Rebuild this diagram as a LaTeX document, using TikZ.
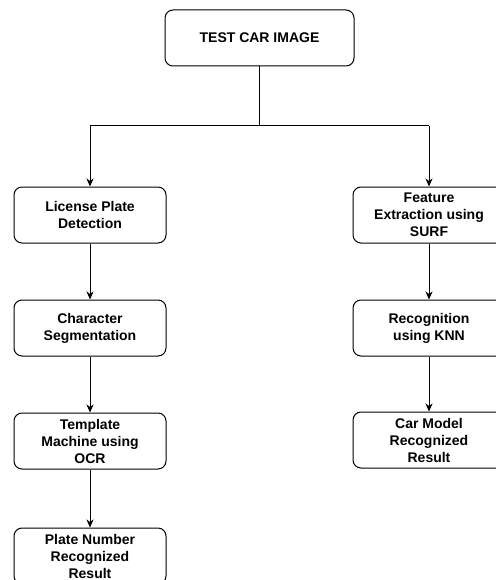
\documentclass[tikz,border=0pt]{standalone}
\usepackage{fontspec}
\setmainfont{Liberation Sans}
\usetikzlibrary{arrows.meta}
\begin{document}
\begin{tikzpicture}[x=1pt,y=-1pt,
  box/.style={draw, line width=1pt, rounded corners=8pt, minimum width=152pt, minimum height=56pt,
    align=center, inner sep=0pt, font=\fontsize{14}{17}\selectfont\bfseries},
  link/.style={line width=1pt},
  arr/.style={line width=1pt,-{Stealth[length=8pt,width=7pt,inset=2.5pt]}}]
\useasboundingbox (0,0) rectangle (495,580);
\node[box, minimum width=189pt] (top) at (259.5,38) {TEST CAR IMAGE};
\node[box] (lpd) at (90,215) {License Plate\\Detection};
\node[box] (cs) at (90,328) {Character\\Segmentation};
\node[box] (tm) at (90,441) {Template\\Machine using\\OCR};
\node[box] (pn) at (90,556) {Plate Number\\Recognized\\Result};
\node[box] (fe) at (429,215) {Feature\\Extraction using\\SURF};
\node[box] (rk) at (429,328) {Recognition\\using KNN};
\node[box] (cm) at (429,440) {Car Model\\Recognized\\Result};
\coordinate (j) at (259.5,126);
\coordinate (jl) at (90,126);
\coordinate (jr) at (429,126);
\draw[link] (top.south) -- (j);
\draw[link] (jl) -- (jr);
\draw[arr] (jl) -- (lpd.north);
\draw[arr] (jr) -- (fe.north);
\draw[arr] (lpd) -- (cs);
\draw[arr] (cs) -- (tm);
\draw[arr] (tm) -- (pn);
\draw[arr] (fe) -- (rk);
\draw[arr] (rk) -- (cm);
\end{tikzpicture}
\end{document}
